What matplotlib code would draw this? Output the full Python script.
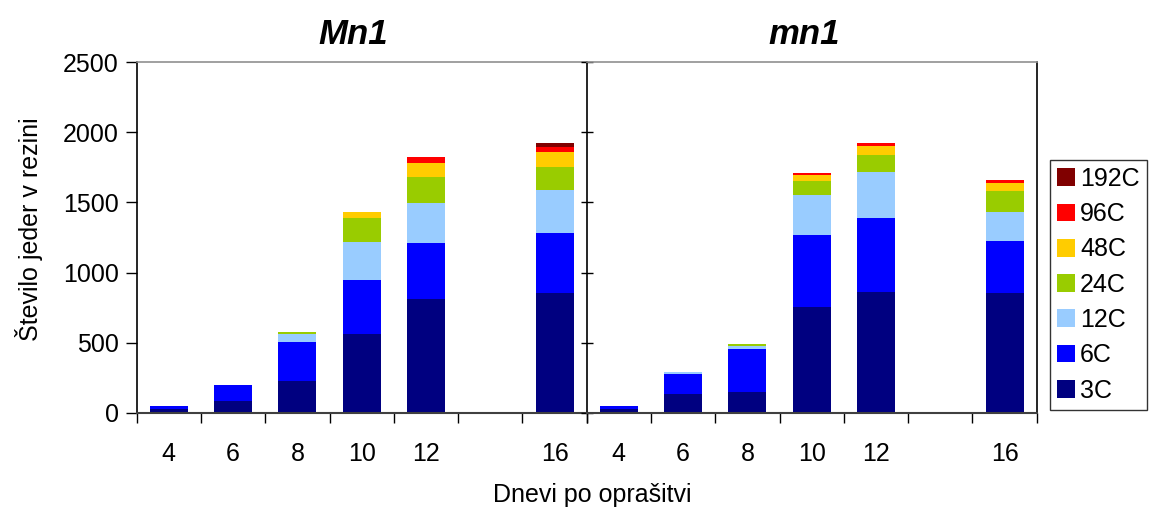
import matplotlib
matplotlib.use("Agg")
import matplotlib.pyplot as plt
import numpy as np

plt.rcParams["font.family"] = ["Liberation Sans", "DejaVu Sans"]

# categories (14 has no data, slot stays empty)
days = ["4", "6", "8", "10", "12", "", "16"]
ploidy = ["3C", "6C", "12C", "24C", "48C", "96C", "192C"]
colors = ["#000080", "#0000FF", "#99CCFF", "#99CC00", "#FFCC00", "#FF0000", "#800000"]

# Mn1, one list per ploidy class, values per day
mn1_big = {
    "3C":   [24, 83, 226, 564, 812, 0, 855],
    "6C":   [24, 115, 279, 384, 400, 0, 428],
    "12C":  [0, 0, 59, 271, 285, 0, 307],
    "24C":  [0, 0, 12, 171, 186, 0, 164],
    "48C":  [0, 0, 0, 43, 100, 0, 107],
    "96C":  [0, 0, 0, 0, 43, 0, 36],
    "192C": [0, 0, 0, 0, 0, 0, 29],
}
# mn1
mn1_small = {
    "3C":   [24, 133, 148, 755, 862, 0, 855],
    "6C":   [24, 143, 307, 514, 528, 0, 371],
    "12C":  [0, 14, 21, 286, 329, 0, 207],
    "24C":  [0, 0, 14, 100, 121, 0, 150],
    "48C":  [0, 0, 0, 43, 65, 0, 57],
    "96C":  [0, 0, 0, 14, 21, 0, 22],
    "192C": [0, 0, 0, 0, 0, 0, 0],
}

W, H = 1150, 514
fig = plt.figure(figsize=(W / 100, H / 100), dpi=100)

ax_l = fig.add_axes([136.7 / W, 101.3 / H, 450 / W, 350.4 / H])
ax_r = fig.add_axes([586.7 / W, 101.3 / H, 450 / W, 350.4 / H], sharey=ax_l)

x = np.arange(len(days))
handles = []
for ax, data, title in [(ax_l, mn1_big, "Mn1"), (ax_r, mn1_small, "mn1")]:
    bottom = np.zeros(len(days))
    for name, col in zip(ploidy, colors):
        vals = np.array(data[name], dtype=float)
        b = ax.bar(x, vals, width=0.59, bottom=bottom, color=col, label=name, linewidth=0)
        bottom += vals
        if ax is ax_l:
            handles.append(b)
    ax.set_xlim(-0.5, len(days) - 0.5)
    ax.set_ylim(0, 2500)
    ax.set_xticks(x)
    ax.set_xticklabels(days, fontsize=18)
    ax.set_xticks(np.arange(len(days) + 1) - 0.5, minor=True)
    ax.tick_params(axis="x", which="major", length=0, pad=21)
    ax.tick_params(axis="x", which="minor", length=7, width=1, direction="out")
    ax.spines["top"].set_color("#909090")
    ax.spines["top"].set_linewidth(1.2)
    ax.spines["bottom"].set_color("#404040")
    ax.spines["bottom"].set_linewidth(1.5)
    ax.spines["left"].set_linewidth(1.2)
    ax.spines["right"].set_linewidth(1.2)
    pos = ax.get_position()
    fig.text(pos.x0 + pos.width / 2 - 8 / W, 1 - 44 / H, title,
             ha="center", va="baseline", fontsize=25, fontweight="bold", fontstyle="italic")

ax_l.set_yticks([0, 500, 1000, 1500, 2000, 2500])
ax_l.tick_params(axis="y", length=8, width=1, labelsize=18, pad=5)
ax_l.spines["right"].set_visible(False)
ax_r.tick_params(axis="y", length=8, width=1, direction="inout", labelleft=False)

fig.text(29 / W, 1 - 229 / H, "Število jeder v rezini", rotation=90, ha="center", va="center", fontsize=18)
fig.text(592 / W, 1 - 495 / H, "Dnevi po oprašitvi", ha="center", va="center", fontsize=18)

leg = fig.legend(handles[::-1], ploidy[::-1], loc="upper left",
                 bbox_to_anchor=(1050 / W, 1 - 160 / H), borderaxespad=0,
                 fontsize=18, handlelength=0.72, handleheight=0.72, handletextpad=0.2,
                 labelspacing=0.45, fancybox=False, edgecolor="black", borderpad=0.28)
leg.get_frame().set_linewidth(1.0)

fig.savefig("out.png", dpi=100)
